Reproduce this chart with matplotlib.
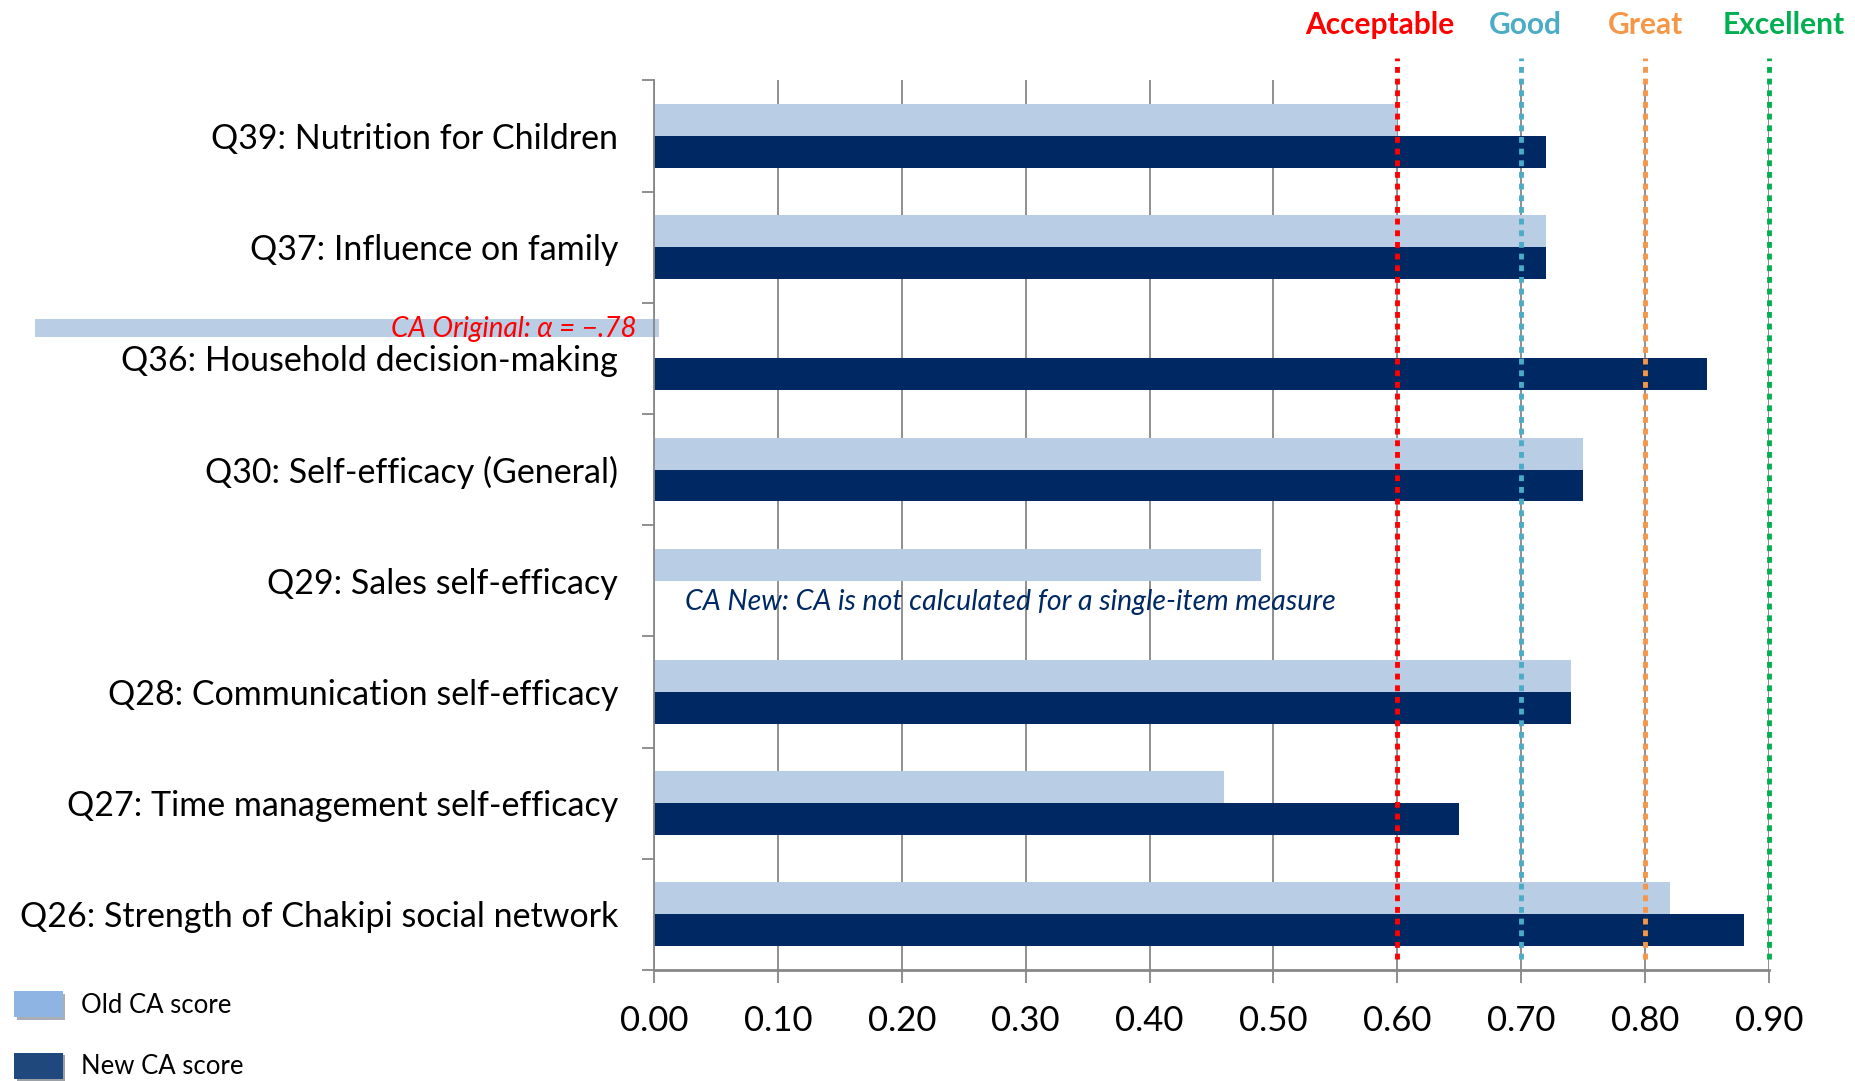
import numpy as np
import matplotlib.pyplot as plt
from matplotlib.patches import Patch
import matplotlib.patheffects as pe

plt.rcParams['font.family'] = ['Lato', 'DejaVu Sans']

# Data, listed bottom to top
categories = ["Q26: Strength of Chakipi social network",
              "Q27: Time management self-efficacy",
              "Q28: Communication self-efficacy",
              "Q29: Sales self-efficacy",
              "Q30: Self-efficacy (General)",
              "Q36: Household decision-making",
              "Q37: Influence on family",
              "Q39: Nutrition for Children"]
old_scores = [0.82, 0.46, 0.74, 0.49, 0.75, np.nan, 0.72, 0.60]
new_scores = [0.88, 0.65, 0.74, np.nan, 0.75, 0.85, 0.72, 0.72]
thresholds = [0.60, 0.70, 0.80, 0.90]
threshold_names = ["Acceptable", "Good", "Great", "Excellent"]
threshold_colors = ["#FF0000", "#4BACC6", "#F79646", "#00B050"]
x_ticks = [0.0, 0.1, 0.2, 0.3, 0.4, 0.5, 0.6, 0.7, 0.8, 0.9]

old_color = "#B9CDE5"
new_color = "#002862"

fig = plt.figure(figsize=(18.55, 10.81), dpi=100)
ax = fig.add_axes([0.3526, 0.1027, 0.601, 0.823])

y = np.arange(len(categories))
h = 0.287
ax.barh(y + h / 2, old_scores, height=h, color=old_color, zorder=2)
ax.barh(y - h / 2, new_scores, height=h, color=new_color, zorder=2)

# Q36 original CA was negative: drawn as a strip running off the left of the axis
q36 = categories.index("Q36: Household decision-making")
ax.barh(q36 + 0.27, 0.504, left=-0.5, height=0.16, color=old_color,
        clip_on=False, zorder=2)
ax.text(-0.014, q36 + 0.26, "CA Original: α = \u2212.78", color="red",
        style="italic", fontsize=20, ha="right", va="center", clip_on=False, zorder=3)

q29 = categories.index("Q29: Sales self-efficacy")
ax.text(0.025, q29 - 0.19, "CA New: CA is not calculated for a single-item measure",
        color=new_color, style="italic", fontsize=20.5, ha="left", va="center", zorder=3)

# threshold lines, labels sit a little off-centre as in the original
label_shift = [-0.014, 0.003, 0.0, 0.012]
for t, name, c, dx in zip(thresholds, threshold_names, threshold_colors, label_shift):
    ax.vlines(t, -0.4, 7.7, colors=c, linestyles=(0, (1.2, 1.2)), lw=3.5,
              clip_on=False, zorder=4)
    ax.text(t + dx, 8.0, name, color=c, fontsize=21.5, fontweight="bold",
            ha="center", va="center", clip_on=False)

ax.set_xlim(0, 0.9)
ax.set_ylim(-0.5, len(categories) - 0.5)
ax.set_xticks(x_ticks)
ax.set_xticklabels([f"{v:.2f}" for v in x_ticks], fontsize=25)
ax.grid(axis="x", color="#878787", lw=1.3, zorder=0)
ax.tick_params(axis="x", length=9, width=1.3, color="#878787", pad=16)

ax.set_yticks(y)
ax.set_yticklabels(categories, fontsize=24.5)
ax.set_yticks(np.arange(-0.5, len(categories)), minor=True)
ax.tick_params(axis="y", which="major", length=0, pad=26)
ax.tick_params(axis="y", which="minor", length=9, width=1.3, color="#878787")

for s in ["top", "right"]:
    ax.spines[s].set_visible(False)
ax.spines["left"].set_color("#878787")
ax.spines["left"].set_linewidth(1.3)
ax.spines["bottom"].set_color("#878787")
ax.spines["bottom"].set_linewidth(2)

shadow = [pe.SimplePatchShadow(offset=(2, -2), alpha=0.4), pe.Normal()]
handles = [Patch(facecolor="#8EB4E3", path_effects=shadow),
           Patch(facecolor="#1F497D", path_effects=shadow)]
fig.legend(handles, ["Old CA score", "New CA score"], loc="lower left",
           bbox_to_anchor=(-0.005, -0.02), frameon=False, fontsize=18.5,
           handlelength=1.9, handleheight=1.2, handletextpad=0.7, labelspacing=1.35)

fig.savefig("out.png", dpi=100)
